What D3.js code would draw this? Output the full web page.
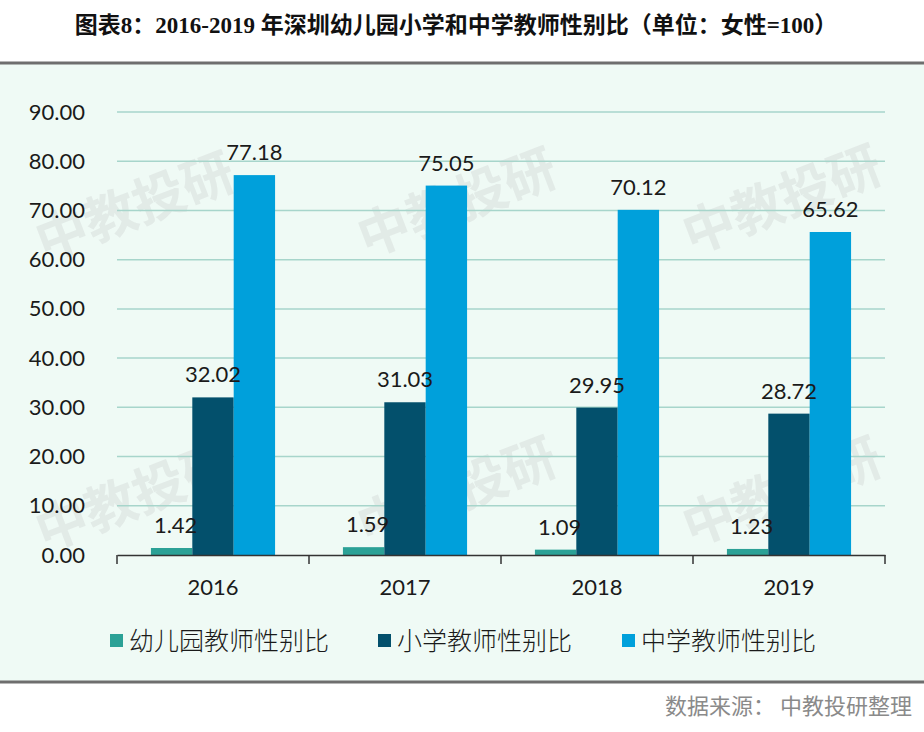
<!DOCTYPE html>
<html>
<head>
<meta charset="utf-8">
<script src="https://cdn.jsdelivr.net/npm/d3@7"></script>
<style>
  body { margin: 0; background: #fff; }
  svg { display: block; }
</style>
</head>
<body>
<svg id="chart" width="924" height="732"></svg>
<script>
const years = ['2016', '2017', '2018', '2019'];
const seriesNames = ['幼儿园教师性别比', '小学教师性别比', '中学教师性别比'];
const kindergarten = [1.42, 1.59, 1.09, 1.23];
const primary = [32.02, 31.03, 29.95, 28.72];
const secondary = [77.18, 75.05, 70.12, 65.62];
const yTicks = [0, 10, 20, 30, 40, 50, 60, 70, 80, 90];
const colors = ['#2ba196', '#03506c', '#00a0db'];

const svg = d3.select('#chart');
const W = 924, H = 732;

// panel background and separators
svg.append('rect').attr('x', 0).attr('y', 64).attr('width', W).attr('height', 618).attr('fill', '#effaf5');
svg.append('line').attr('x1', 0).attr('x2', W).attr('y1', 63).attr('y2', 63)
    .attr('stroke', '#6e6e6e').attr('stroke-width', 3);
svg.append('line').attr('x1', 0).attr('x2', W).attr('y1', 682).attr('y2', 682)
    .attr('stroke', '#6e6e6e').attr('stroke-width', 3);

svg.append('text')
    .attr('x', 456).attr('y', 33)
    .attr('text-anchor', 'middle')
    .style('font-family', '"Liberation Serif", "Noto Sans CJK SC", serif')
    .style('font-weight', 'bold')
    .style('font-size', '23px')
    .attr('fill', '#111')
    .text('图表8：2016-2019 年深圳幼儿园小学和中学教师性别比（单位：女性=100）');

svg.append('text')
    .attr('x', 912).attr('y', 714)
    .attr('text-anchor', 'end')
    .style('font-family', '"Noto Sans CJK SC", sans-serif')
    .style('font-size', '22px')
    .attr('fill', '#8a8a8a')
    .text('数据来源： 中教投研整理');

// watermarks
const marks = [[135, 207], [457, 203], [782, 200], [135, 497], [457, 492], [782, 492]];
svg.append('g').selectAll('text')
    .data(marks)
    .join('text')
    .attr('transform', d => `translate(${d[0]},${d[1]}) rotate(-21)`)
    .attr('text-anchor', 'middle')
    .attr('dy', '0.35em')
    .style('font-family', '"Noto Sans CJK SC", sans-serif')
    .style('font-weight', 'bold')
    .style('font-size', '52px')
    .attr('fill', '#d6dcd9')
    .attr('fill-opacity', 0.5)
    .text('中教投研');

const plot = { left: 117, right: 885, top: 112, bottom: 555 };

const x0 = d3.scaleBand().domain(years).range([plot.left, plot.right]);
const x1 = d3.scaleBand().domain(d3.range(3)).range([0, x0.bandwidth()]).paddingOuter(0.82).paddingInner(0);
const y = d3.scaleLinear().domain([0, 90]).range([plot.bottom, plot.top]);

// gridlines
svg.append('g').selectAll('line')
    .data(yTicks.filter(d => d > 0))
    .join('line')
    .attr('x1', plot.left).attr('x2', plot.right)
    .attr('y1', d => y(d)).attr('y2', d => y(d))
    .attr('stroke', '#a7d5cb').attr('stroke-width', 1.5);

// y axis labels
const yAxis = d3.axisLeft(y).tickValues(yTicks).tickFormat(d3.format('.2f')).tickSize(0).tickPadding(32);
const yg = svg.append('g').attr('transform', `translate(${plot.left},0)`).call(yAxis);
yg.select('.domain').remove();
yg.selectAll('text')
    .style('font-family', 'Lato, "Open Sans", sans-serif')
    .style('font-size', '22px')
    .attr('fill', '#1a1a1a');

const series = [kindergarten, primary, secondary];

const groups = svg.append('g').selectAll('g')
    .data(years)
    .join('g')
    .attr('transform', d => `translate(${x0(d)},0)`);

groups.selectAll('rect')
    .data((d, i) => series.map((s, k) => ({ k, v: s[i] })))
    .join('rect')
    .attr('x', d => x1(d.k))
    .attr('width', x1.bandwidth())
    .attr('y', d => y(d.v))
    .attr('height', d => y(0) - y(d.v))
    .attr('fill', d => colors[d.k]);

groups.selectAll('text.val')
    .data((d, i) => series.map((s, k) => ({ k, v: s[i] })))
    .join('text')
    .attr('class', 'val')
    .attr('x', d => x1(d.k) + x1.bandwidth() / 2 + (d.k === 0 ? 4 : 0))
    .attr('y', d => y(d.v) - 15)
    .attr('text-anchor', 'middle')
    .style('font-family', 'Lato, "Open Sans", sans-serif')
    .style('font-size', '22px')
    .attr('fill', '#1a1a1a')
    .text(d => d3.format('.2f')(d.v));

// x axis
const xAxis = d3.axisBottom(x0).tickSize(0).tickPadding(24);
const xg = svg.append('g').attr('transform', `translate(0,${plot.bottom})`).call(xAxis);
xg.select('.domain').attr('stroke', '#333').attr('stroke-width', 1.5);
xg.selectAll('text')
    .style('font-family', 'Lato, "Open Sans", sans-serif')
    .style('font-size', '22px')
    .attr('fill', '#1a1a1a');
xg.selectAll('line.sep')
    .data(years.concat(['end']))
    .join('line')
    .attr('class', 'sep')
    .attr('x1', (d, i) => plot.left + i * x0.bandwidth())
    .attr('x2', (d, i) => plot.left + i * x0.bandwidth())
    .attr('y1', 0).attr('y2', 9)
    .attr('stroke', '#333').attr('stroke-width', 1.5);

// legend
const legendX = [110, 378, 622];
const legend = svg.append('g').selectAll('g')
    .data(seriesNames)
    .join('g')
    .attr('transform', (d, i) => `translate(${legendX[i]},641)`);
legend.append('rect')
    .attr('x', 0).attr('y', -7).attr('width', 13).attr('height', 13)
    .attr('fill', (d, i) => colors[i]);
legend.append('text')
    .attr('x', 19).attr('dy', '0.35em')
    .style('font-family', '"Noto Sans CJK SC", sans-serif')
    .style('font-weight', 300)
    .style('font-size', '25px')
    .attr('fill', '#1a1a1a')
    .text(d => d);
</script>
</body>
</html>
